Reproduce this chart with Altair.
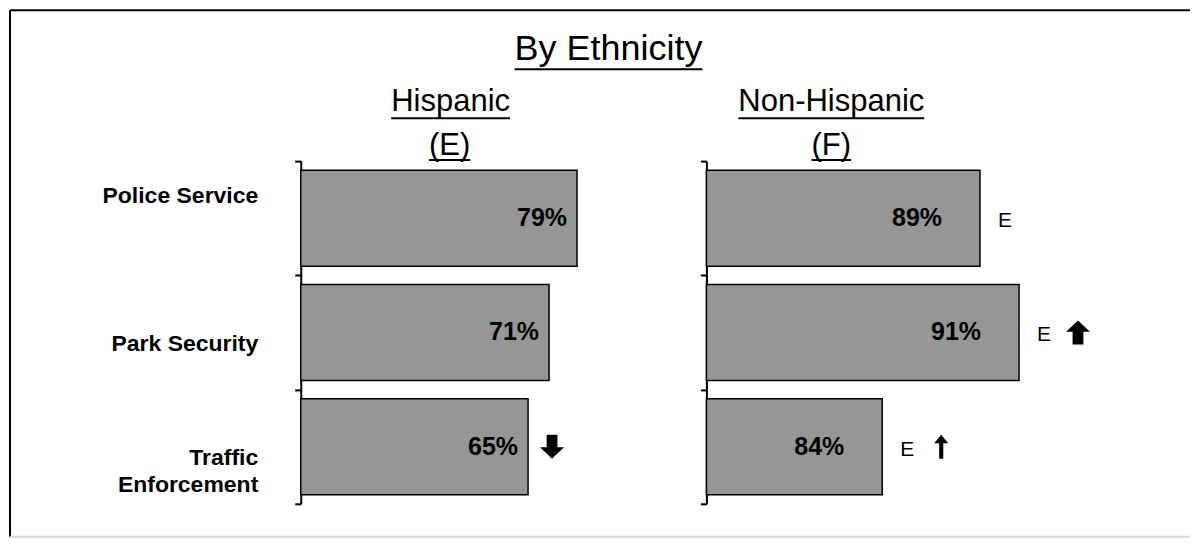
import altair as alt
import pandas as pd

# ---------------- data ----------------
categories = ["Police Service", "Park Security", "Traffic Enforcement"]
hispanic = [79, 71, 65]
non_hispanic = [89, 91, 84]
hispanic_sig = ["", "", ""]
non_hispanic_sig = ["E", "E", "E"]
hispanic_arrow = ["", "", "down_big"]
non_hispanic_arrow = ["", "up_big", "up"]

title_text = "By Ethnicity"
left_header = ["Hispanic", "(E)"]
right_header = ["Non-Hispanic", "(F)"]

# ---------------- style ----------------
FONT = "Liberation Sans"
BAR_FILL = "#969696"
W_LEFT, W_RIGHT, H = 350, 352, 343

# approximate Arial/Liberation Sans advance widths (em) for underline lengths
EM = {"By Ethnicity": 5.224, "Hispanic": 3.834, "(E)": 1.333,
      "Non-Hispanic": 6.001, "(F)": 1.277}

SHAPES = {
    "up_big": "M0,-1 L1,-0.05 L0.45,-0.05 L0.45,1 L-0.45,1 L-0.45,-0.05 L-1,-0.05 Z",
    "down_big": "M0,1 L1,0.05 L0.45,0.05 L0.45,-1 L-0.45,-1 L-0.45,0.05 L-1,0.05 Z",
    "up": "M0,-1 L0.58,-0.28 L0.17,-0.28 L0.17,1 L-0.17,1 L-0.17,-0.28 L-0.58,-0.28 Z",
}

one = alt.Data(values=[{"k": 1}])


def text_at(txt, x, y, size, underline_gap=7):
    t = alt.Chart(one).mark_text(
        text=txt, font=FONT, fontSize=size, align="center", baseline="alphabetic",
        color="black",
    ).encode(x=alt.value(x), y=alt.value(y))
    half = EM[txt] * size / 2
    u = alt.Chart(one).mark_rule(color="black", strokeWidth=2).encode(
        x=alt.value(x - half), x2=alt.value(x + half), y=alt.value(y + underline_gap)
    )
    return [t, u]


def panel(values, sig, arrows, domain, width, label_dx, sig_dx, arrow_dx,
          show_labels, extra_layers):
    df = pd.DataFrame({"cat": categories, "v": values, "sig": sig, "arrow": arrows})
    df["label"] = [f"{v}%" for v in values]
    base = alt.Chart(df)

    if show_labels:
        axis = alt.Axis(
            title=None, labelAlign="right", labelPadding=37, labelLimit=400,
            labelFont=FONT, labelFontSize=23, labelFontWeight="bold",
            labelColor="black", labelLineHeight=27,
            labelOffset=alt.condition("datum.label == 'Police Service'",
                                      alt.value(-23), alt.value(11)),
            labelExpr="datum.label == 'Traffic Enforcement' ? ['Traffic', 'Enforcement'] : datum.label",
            tickBand="extent", tickSize=6, tickWidth=2, tickColor="black",
            domainColor="black", domainWidth=2, grid=False,
        )
    else:
        axis = alt.Axis(
            title=None, labels=False, tickBand="extent", tickSize=6, tickWidth=2,
            tickColor="black", domainColor="black", domainWidth=2, grid=False,
        )

    y = alt.Y("cat:N", sort=categories,
              scale=alt.Scale(paddingInner=0, paddingOuter=0), axis=axis)
    x = alt.X("v:Q", scale=alt.Scale(domain=domain, zero=False), axis=None)

    bars = base.mark_bar(
        height={"band": 0.84}, fill=BAR_FILL, stroke="black", strokeWidth=1.5
    ).encode(x=x, x2=alt.datum(domain[0]), y=y)

    labels = base.mark_text(
        align="right", baseline="middle", dx=label_dx, font=FONT,
        fontSize=25, fontWeight="bold", color="black",
    ).encode(x=x, y=y, text="label:N")

    sigs = base.transform_filter("datum.sig != ''").mark_text(
        align="left", baseline="middle", dx=sig_dx, dy=3, font=FONT,
        fontSize=21, color="black",
    ).encode(x=x, y=y, text="sig:N")

    layers = [bars, labels, sigs]
    for key, path in SHAPES.items():
        layers.append(
            base.transform_filter(f"datum.arrow == '{key}'").mark_point(
                shape=path, size=576, filled=True, fill="black", opacity=1,
                strokeWidth=0, xOffset=arrow_dx,
            ).encode(x=x, y=y)
        )
    layers += extra_layers
    return alt.layer(*layers).properties(width=width, height=H)


# left panel plot origin ~ page (300,160); right panel ~ page (706,160)
left_extra = []
left_extra += text_at(title_text, 308, -101, 36, underline_gap=9)
left_extra += text_at(left_header[0], 150, -50, 31)
left_extra += text_at(left_header[1], 149, -6, 31, underline_gap=5)
# frame
left_extra.append(alt.Chart(one).mark_rule(color="black", strokeWidth=2).encode(
    x=alt.value(-291), y=alt.value(-151), y2=alt.value(376)))
left_extra.append(alt.Chart(one).mark_rule(color="black", strokeWidth=2).encode(
    x=alt.value(-291), x2=alt.value(890), y=alt.value(-151)))
left_extra.append(alt.Chart(one).mark_rule(color="#d8d8d8", strokeWidth=2).encode(
    x=alt.value(-291), x2=alt.value(890), y=alt.value(376)))

right_extra = []
right_extra += text_at(right_header[0], 125, -50, 31)
right_extra += text_at(right_header[1], 125, -6, 31, underline_gap=5)

left = panel(hispanic, hispanic_sig, hispanic_arrow, [0, 100], W_LEFT,
             -10, 22, 24, True, left_extra)
right = panel(non_hispanic, non_hispanic_sig, non_hispanic_arrow, [75, 93], W_RIGHT,
              -38, 18, 59, False, right_extra)

chart = alt.hconcat(left, right, spacing=56, bounds="flush").properties(
    padding=0, background="white"
).configure_view(stroke="transparent")

chart.save("out.html", embed_options={"renderer": "svg", "actions": False})
